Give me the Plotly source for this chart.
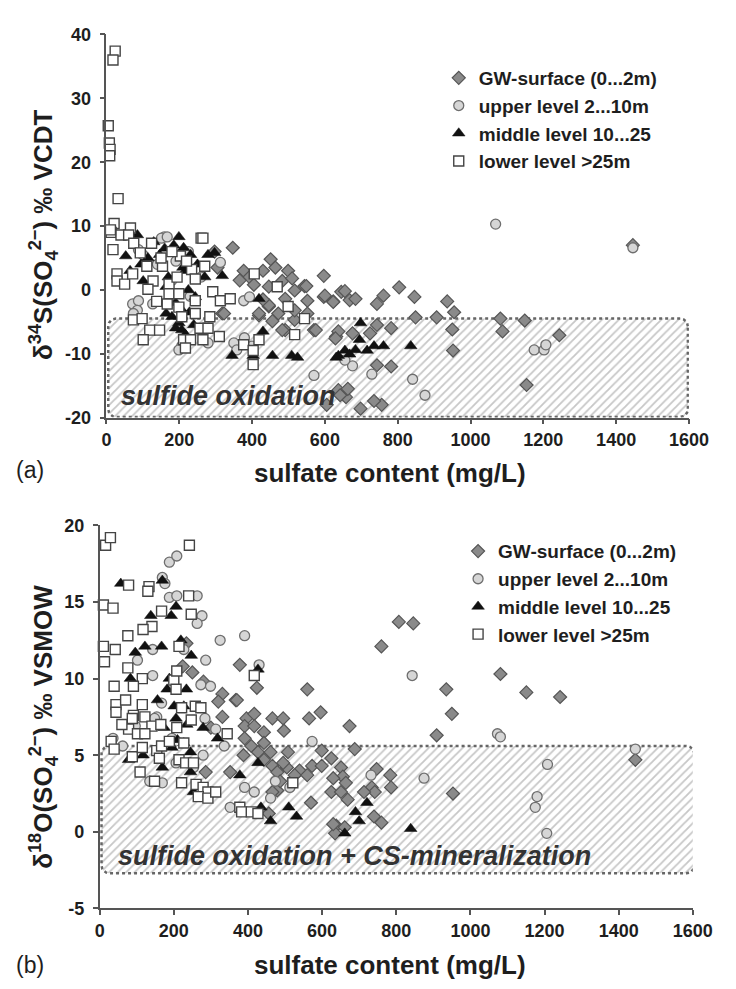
import numpy as np
import plotly.graph_objects as go

# ---------------- data: panel (a) delta34S vs sulfate ----------------
a_gw_x = [347,297,451,597,544,305,318,377,393,430,464,499,483,446,419,446,472,517,552,597,623,570,552,491,517,645,631,623,655,668,684,743,761,804,846,849,907,936,955,950,952,1082,1088,1149,1154,1244,575,637,676,629,724,743,782,782,743,637,658,663,605,698,756,735,1446,323,419,456,483,446,517,491,642,549,600,366,405,430,510]
a_gw_y = [6.6,6.0,4.8,2.2,0.6,3.5,-3.7,3.0,2.0,3.0,3.5,3.0,1.4,0.5,-4.0,-2.6,-3.7,-0.1,-1.7,-1.1,-1.8,-6.3,-3.7,-6.3,-4.7,-0.3,-7.3,-1.9,-0.2,-1.6,-1.4,-2.2,-0.9,0.4,-1.1,-4.3,-4.3,-1.8,-3.5,-6.2,-9.5,-4.5,-6.5,-4.8,-14.9,-7.1,-6.3,-6.5,-6.8,-7.6,-6.8,-5.5,-6.0,-12.0,-11.8,-15.7,-16.8,-15.5,-18.0,-18.6,-18.0,-17.4,7.0,-3.7,-3.7,-4.9,-6.3,-2.4,-3.2,-1.4,-16.5,0.6,-0.9,1.5,0.8,-1.5,1.8]

a_up_x = [159,151,167,88,72,88,85,74,127,191,225,313,377,393,350,358,379,207,199,279,1069,570,676,729,841,875,1175,1202,1207,1446,140,180,230,260,100,400,655]
a_up_y = [8.3,8.1,8.3,6.3,-2.2,-1.7,-3.2,-3.7,-2.2,4.5,6.0,4.3,-1.7,-1.1,-8.3,-9.4,-7.5,-8.8,-9.4,-8.3,10.3,-13.4,-11.9,-13.2,-14.0,-16.5,-9.4,-9.4,-8.6,6.6,4.0,1.5,-1.0,2.0,5.5,-8.8,-11.0]

a_mid_x = [85,199,53,114,146,212,231,279,297,101,164,217,244,318,164,180,199,207,217,419,430,345,403,456,509,525,637,698,695,655,631,684,716,735,761,836,668,170,190,205,225,250,270,160,130,95,240,185,210,228,190,65]
a_mid_y = [8.6,8.3,5.3,5.0,5.5,6.6,5.5,5.5,5.8,1.4,0.5,3.0,-1.1,2.2,-3.7,-4.2,-5.2,-6.3,-7.0,-1.4,-6.5,-10.3,-10.3,-10.3,-10.3,-10.6,-10.3,-5.2,-7.8,-9.5,-10.6,-9.4,-9.5,-8.8,-8.8,-8.8,-10.1,2.0,-2.0,-3.0,0.0,4.0,2.0,6.5,7.5,4.0,-5.5,7.0,3.5,-3.5,-6.0,3.0]

a_low_x = [24,18,5,8,10,9,32,21,13,40,66,61,124,260,18,75,203,265,93,29,29,50,72,111,128,154,172,194,234,244,270,114,138,172,199,167,199,244,292,313,340,74,98,119,146,101,207,244,284,257,279,310,212,231,265,217,406,469,499,544,517,377,419,403,403,11,150,180,220]
a_low_y = [37.4,36.0,25.7,23.0,22.0,21.0,14.3,10.4,9.0,8.6,9.7,8.6,7.3,8.1,6.3,7.3,5.3,8.1,5.8,2.5,1.4,0.9,2.5,3.7,1.4,3.7,0.9,2.0,3.2,1.7,3.7,0.1,-1.8,-0.6,-0.6,-2.2,-2.7,-1.7,-0.3,-1.7,-1.4,-4.7,-4.5,-6.3,-6.3,-7.8,-4.2,-3.7,-4.2,-6.0,-6.0,-7.3,-7.8,-7.8,-7.8,-9.1,2.5,0.5,-2.6,-4.5,-7.0,-8.6,-7.8,-9.5,-11.7,9.4,5.0,6.0,4.5]

# ---------------- data: panel (b) delta18O vs sulfate ----------------
b_gw_x = [378,424,331,367,250,224,234,560,596,807,846,760,1081,935,1151,1242,950,909,1445,953,747,784,786,734,742,713,740,760,565,674,466,495,497,396,417,331,391,417,443,391,409,427,443,461,388,443,466,479,505,508,539,526,560,573,599,625,688,651,656,630,664,625,651,669,570,479,487,466,352,286,638,635,661,599,495,630,456,300,320,280,370]
b_gw_y = [10.9,9.4,9.0,8.6,10.4,10.8,12.3,9.3,7.8,13.7,13.6,12.1,10.3,9.3,9.1,8.8,7.7,6.3,4.7,2.5,4.1,3.7,2.9,2.9,2.6,2.6,1.0,0.6,7.4,6.9,7.4,7.4,6.6,7.4,7.7,7.5,6.9,6.9,6.5,6.1,5.6,5.2,5.8,5.2,5.0,4.7,4.3,3.9,4.2,5.2,4.0,3.7,3.7,4.3,4.3,4.8,5.4,4.2,3.6,3.5,3.2,2.6,2.6,2.1,1.9,2.7,3.3,2.6,3.9,3.9,0.4,-0.1,0.3,5.3,4.5,0.5,1.2,6.8,8.5,9.8,8.6]

b_up_x = [188,208,169,188,208,263,276,263,325,391,286,430,273,299,143,102,227,143,167,154,284,843,1073,1081,1445,1208,875,732,1180,1175,1206,573,352,391,417,461,474,169,135,36,62,96,148,195,336,313,513,206,279,253,176]
b_up_y = [17.6,18.0,16.6,15.3,15.4,15.4,14.1,13.6,12.5,12.8,11.2,10.9,9.6,9.5,10.2,11.2,11.9,11.9,8.4,7.5,7.4,10.2,6.4,6.2,5.4,4.4,3.5,3.7,2.3,1.6,-0.1,5.9,1.6,2.9,2.6,2.2,3.3,3.2,3.3,6.1,5.6,6.9,7.4,6.1,5.6,6.7,2.9,4.5,5.0,4.2,16.2]

b_mid_x = [57,169,206,193,138,122,96,167,219,247,83,188,182,234,156,201,227,427,174,206,279,318,227,245,117,78,169,245,253,378,427,435,461,510,531,690,700,721,661,839,210,235,195]
b_mid_y = [16.2,16.4,14.7,14.1,14.1,12.1,11.7,12.1,12.5,11.5,10.0,10.0,9.3,9.3,8.6,8.2,8.2,10.6,6.8,7.4,6.8,6.1,5.8,5.2,5.0,4.7,4.2,3.9,2.6,3.7,4.5,1.6,0.7,1.6,1.0,1.3,0.7,1.9,-0.1,0.2,6.0,7.0,5.5]

b_low_x = [16,29,10,36,10,42,13,242,78,133,130,167,141,117,76,240,247,214,76,115,91,39,200,208,417,44,70,115,44,91,258,273,206,88,122,141,78,102,122,31,39,88,115,154,161,109,148,214,232,253,221,260,279,292,266,292,313,227,208,247,344,221,378,383,409,427,521,167,188,60,165]
b_low_y = [18.7,19.2,14.8,14.6,12.1,11.9,11.1,18.7,16.1,16.0,15.7,14.4,13.4,13.2,12.8,15.4,14.2,12.1,10.7,10.0,9.5,9.5,9.9,10.5,10.2,8.3,8.6,8.3,7.8,7.6,8.2,8.1,9.3,7.4,7.5,6.9,6.7,6.4,6.4,5.9,5.4,4.9,5.5,5.3,4.8,3.9,3.3,4.7,4.5,4.5,3.2,3.1,2.9,2.6,2.3,2.2,2.6,5.8,6.8,7.3,6.4,8.1,1.6,1.3,1.3,1.2,3.2,5.6,5.9,7.0,7.0]

series_names = ["GW-surface (0...2m)", "upper level 2...10m", "middle level 10...25", "lower level >25m"]

xa_ticks = [0, 200, 400, 600, 800, 1000, 1200, 1400, 1600]
ya_ticks = [-20, -10, 0, 10, 20, 30, 40]
yb_ticks = [-5, 0, 5, 10, 15, 20]

# region boxes (x0, x1, y0, y1)
box_a = (5, 1597, -19.9, -4.5)
box_b = (5, 1604, -2.7, 5.6)

# ---------------- styling ----------------
W, H = 736, 989
FONT = "Liberation Sans, Arial, sans-serif"
AX = "#555555"
TXT = "#1e1e1e"

styles = [
    dict(symbol="diamond", size=10, color="#8a8a8a", line=dict(color="#555555", width=1.2)),
    dict(symbol="circle", size=10, color="#d6d6d6", line=dict(color="#6e6e6e", width=1.3)),
    dict(symbol="triangle-up", size=11, color="#111111", line=dict(color="#111111", width=0.5)),
    dict(symbol="square", size=10, color="#ffffff", line=dict(color="#444444", width=1.4)),
]


def rounded_rect(x0, x1, y0, y1, rx, ry, n=8):
    xs, ys = [], []
    corners = [(x1 - rx, y1 - ry, 0), (x0 + rx, y1 - ry, 90), (x0 + rx, y0 + ry, 180), (x1 - rx, y0 + ry, 270)]
    for cx, cy, a0 in corners:
        for t in np.linspace(a0, a0 + 90, n):
            xs.append(cx + rx * np.cos(np.radians(t)))
            ys.append(cy + ry * np.sin(np.radians(t)))
    xs.append(xs[0]); ys.append(ys[0])
    return xs, ys


fig = go.Figure()


def add_box(box, xref, yref, rx, ry):
    xs, ys = rounded_rect(*box, rx, ry)
    fig.add_trace(go.Scatter(
        x=xs, y=ys, mode="lines", fill="toself", xaxis=xref, yaxis=yref,
        fillcolor="rgba(255,255,255,0)",
        fillpattern=dict(shape="/", fgcolor="#8f8f8f", bgcolor="rgba(255,255,255,0)", size=6, solidity=0.3),
        line=dict(color="#666666", width=2.5, dash="dot"),
        showlegend=False, hoverinfo="skip"))


add_box(box_a, "x", "y", 21, 1.2)
add_box(box_b, "x2", "y2", 21, 0.5)

panel_a = [(a_gw_x, a_gw_y), (a_up_x, a_up_y), (a_mid_x, a_mid_y), (a_low_x, a_low_y)]
panel_b = [(b_gw_x, b_gw_y), (b_up_x, b_up_y), (b_mid_x, b_mid_y), (b_low_x, b_low_y)]

for i, (xs, ys) in enumerate(panel_a):
    st = styles[i]
    fig.add_trace(go.Scatter(
        x=xs, y=ys, mode="markers", name=series_names[i], xaxis="x", yaxis="y",
        legend="legend", legendgroup="a%d" % i, cliponaxis=False,
        marker=dict(symbol=st["symbol"], size=st["size"], color=st["color"], line=st["line"])))

for i, (xs, ys) in enumerate(panel_b):
    st = styles[i]
    fig.add_trace(go.Scatter(
        x=xs, y=ys, mode="markers", name=series_names[i], xaxis="x2", yaxis="y2",
        legend="legend2", legendgroup="b%d" % i, cliponaxis=False,
        marker=dict(symbol=st["symbol"], size=st["size"], color=st["color"], line=st["line"])))

tickfont = dict(family=FONT, size=18, color=TXT, weight="bold")
axis_common = dict(showline=True, linecolor=AX, linewidth=1.6, ticks="outside", ticklen=5,
                   tickwidth=1.5, tickcolor=AX, showgrid=False, zeroline=False, tickfont=tickfont)

fig.update_layout(
    width=W, height=H, margin=dict(l=0, r=0, t=0, b=0),
    paper_bgcolor="white", plot_bgcolor="white",
    xaxis=dict(domain=[105 / W, 708 / W], range=[0, 1600], anchor="y", tickvals=xa_ticks,
               ticktext=[str(v) for v in xa_ticks], **axis_common),
    yaxis=dict(domain=[1 - 416 / H, 1 - 25 / H], range=[-20, 40], anchor="x", tickvals=ya_ticks,
               ticktext=[str(v) for v in ya_ticks], ticklabelstandoff=5, **axis_common),
    xaxis2=dict(domain=[98 / W, 712 / W], range=[0, 1600], anchor="y2", tickvals=xa_ticks,
                ticktext=[str(v) for v in xa_ticks], **axis_common),
    yaxis2=dict(domain=[1 - 917 / H, 1 - 526 / H], range=[-5, 20], anchor="x2", tickvals=yb_ticks,
                ticktext=[str(v) for v in yb_ticks], ticklabelstandoff=5, **axis_common),
    legend=dict(x=449 / W, y=1 - 50 / H, xanchor="left", yanchor="top", bgcolor="rgba(0,0,0,0)",
                font=dict(family=FONT, size=19, color=TXT, weight="bold"), tracegroupgap=0,
                traceorder="grouped"),
    legend2=dict(x=469 / W, y=1 - 533 / H, xanchor="left", yanchor="top", bgcolor="rgba(0,0,0,0)",
                 font=dict(family=FONT, size=19, color=TXT, weight="bold"), tracegroupgap=0,
                 traceorder="grouped"),
)

ann = []
title_font = dict(family=FONT, size=26, color=TXT, weight="bold")
ann.append(dict(text="sulfate content (mg/L)", x=399 / W, y=1 - 473 / H, xref="paper", yref="paper",
                showarrow=False, font=title_font, xanchor="center", yanchor="middle"))
ann.append(dict(text="sulfate content (mg/L)", x=399 / W, y=1 - 975 / H, xref="paper", yref="paper",
                showarrow=False, font=title_font, xanchor="center", yanchor="middle"))
yfont = dict(family=FONT, size=26, color=TXT, weight="bold")
ann.append(dict(text="δ<sup>34</sup>S(SO<sub>4</sub><sup>2−</sup>) ‰ VCDT", x=40 / W, y=1 - 230 / H,
                xref="paper", yref="paper", showarrow=False, font=yfont, textangle=-90,
                xanchor="center", yanchor="middle"))
ann.append(dict(text="δ<sup>18</sup>O(SO<sub>4</sub><sup>2−</sup>) ‰ VSMOW", x=40 / W, y=1 - 732 / H,
                xref="paper", yref="paper", showarrow=False, font=yfont, textangle=-90,
                xanchor="center", yanchor="middle"))
lab_font = dict(family=FONT, size=23, color=TXT)
ann.append(dict(text="(a)", x=9 / W, y=1 - 470 / H, xref="paper", yref="paper", showarrow=False,
                font=lab_font, xanchor="left", yanchor="middle"))
ann.append(dict(text="(b)", x=9 / W, y=1 - 975 / H, xref="paper", yref="paper", showarrow=False,
                font=lab_font, xanchor="left", yanchor="middle"))
reg_font = dict(family=FONT, size=27, color="#333333", weight="bold", style="italic")
ann.append(dict(text="sulfide oxidation", x=34, y=-16.6, xref="x", yref="y", showarrow=False,
                font=reg_font, xanchor="left", yanchor="middle"))
ann.append(dict(text="sulfide oxidation + CS-mineralization", x=44, y=-1.6, xref="x2", yref="y2",
                showarrow=False, font=reg_font, xanchor="left", yanchor="middle"))
fig.update_layout(annotations=ann)

fig.write_html("out.html")
